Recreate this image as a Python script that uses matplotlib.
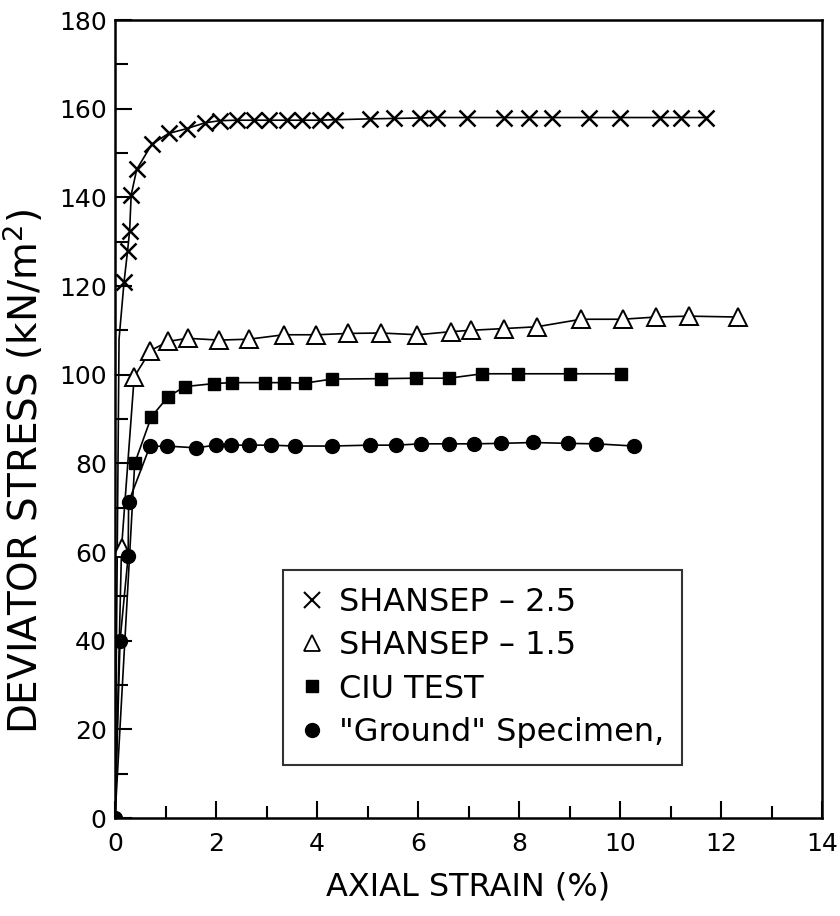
import matplotlib
matplotlib.use("Agg")
import numpy as np
from matplotlib import pyplot as plt
from matplotlib.lines import Line2D
from matplotlib.ticker import MultipleLocator

# axial strain (%) / deviator stress (kN/m2); first point of each curve is the origin
strain_s25 = [0.0, 0.08, 0.18, 0.25, 0.29, 0.32, 0.43, 0.73, 1.06, 1.42, 1.78, 2.08,
              2.41, 2.75, 3.04, 3.40, 3.70, 4.05, 4.35, 5.04, 5.53, 6.03, 6.37,
              6.98, 7.71, 8.20, 8.66, 9.39, 10.0, 10.8, 11.2, 11.7]
stress_s25 = [0.0, 108, 121, 128, 132.5, 140.5, 146.3, 152.0, 154.4, 155.5, 156.8, 157.3,
              157.4, 157.4, 157.4, 157.4, 157.4, 157.4, 157.5, 157.7, 157.8, 157.9, 158.0,
              158.0, 158.0, 158.0, 158.0, 158.0, 158.0, 158.0, 158.0, 158.0]

strain_s15 = [0.0, 0.13, 0.38, 0.70, 1.05, 1.44, 2.06, 2.65, 3.34, 3.99, 4.62, 5.27,
              5.99, 6.65, 7.04, 7.70, 8.35, 9.23, 10.05, 10.71, 11.36, 12.34]
stress_s15 = [0.0, 61, 99.5, 105.4, 107.5, 108.2, 107.8, 108.0, 109.0, 109.0, 109.3, 109.4,
              109.0, 109.7, 110.0, 110.4, 110.8, 112.5, 112.5, 113.0, 113.2, 113.0]

strain_ciu = [0.0, 0.39, 0.72, 1.05, 1.38, 1.96, 2.32, 2.98, 3.34, 3.77, 4.29, 5.27,
              5.96, 6.61, 7.27, 7.98, 9.00, 10.02]
stress_ciu = [0.0, 80.0, 90.5, 95.0, 97.3, 98.0, 98.2, 98.2, 98.2, 98.1, 99.0, 99.1,
              99.2, 99.2, 100.2, 100.2, 100.2, 100.2]

strain_gnd = [0.0, 0.10, 0.26, 0.27, 0.69, 1.02, 1.60, 2.00, 2.29, 2.65, 3.08, 3.57,
              4.29, 5.04, 5.57, 6.06, 6.61, 7.10, 7.64, 8.28, 8.97, 9.53, 10.28]
stress_gnd = [0.0, 40.0, 59.0, 71.3, 83.8, 83.9, 83.5, 84.1, 84.1, 84.1, 84.1, 83.9,
              83.9, 84.1, 84.1, 84.4, 84.4, 84.4, 84.5, 84.7, 84.5, 84.4, 83.9]

labels = ["SHANSEP \u2013 2.5", "SHANSEP \u2013 1.5", "CIU TEST", "\"Ground\" Specimen,"]

plt.rcParams['font.family'] = ['DejaVu Sans']

fig = plt.figure(figsize=(8.4, 9.16), dpi=100)
ax = fig.add_axes([115 / 840, 1 - 818 / 916, 707 / 840, 798 / 916])

lw = 1.2
ax.plot(strain_s25, stress_s25, color='black', lw=lw, marker='x', ms=11, mew=1.8,
        markevery=list(range(2, len(strain_s25))))
ax.plot(strain_s15, stress_s15, color='black', lw=lw, marker='^', ms=13, mew=1.4,
        mfc='white', markevery=list(range(1, len(strain_s15))))
ax.plot(strain_ciu, stress_ciu, color='black', lw=lw, marker='s', ms=9,
        markevery=list(range(1, len(strain_ciu))))
ax.plot(strain_gnd, stress_gnd, color='black', lw=lw, marker='o', ms=10)

ax.set_xlim(0, 14)
ax.set_ylim(0, 180)
ax.xaxis.set_major_locator(MultipleLocator(2))
ax.xaxis.set_minor_locator(MultipleLocator(1))
ax.yaxis.set_major_locator(MultipleLocator(20))
ax.yaxis.set_minor_locator(MultipleLocator(10))
ax.tick_params(which='both', direction='in', width=1.5, colors='black', labelsize=18)
ax.tick_params(which='major', length=12)
ax.tick_params(which='minor', length=9)
ax.tick_params(axis='x', pad=10)
ax.tick_params(axis='y', pad=6)
for s in ax.spines.values():
    s.set_linewidth(1.8)

ax.set_xlabel("AXIAL STRAIN (%)", fontsize=23, labelpad=11)
ax.set_ylabel("DEVIATOR STRESS (kN/m$^2$)", fontsize=28)
ax.yaxis.set_label_coords(-0.098, 0.434)

handles = [
    Line2D([], [], ls='none', color='black', marker='x', ms=11, mew=1.5),
    Line2D([], [], ls='none', color='black', marker='^', ms=12, mew=1.3, mfc='white'),
    Line2D([], [], ls='none', color='black', marker='s', ms=9),
    Line2D([], [], ls='none', color='black', marker='o', ms=10),
]
leg = ax.legend(handles, labels, loc='lower left', bbox_to_anchor=(0.238, 0.066),
                fontsize=23, frameon=True, fancybox=False, handlelength=0.7,
                handletextpad=0.5, labelspacing=0.38, borderpad=0.55,
                borderaxespad=0.0)
leg.get_frame().set_edgecolor('black')
leg.get_frame().set_linewidth(1.5)

fig.savefig("out.png", dpi=100)
